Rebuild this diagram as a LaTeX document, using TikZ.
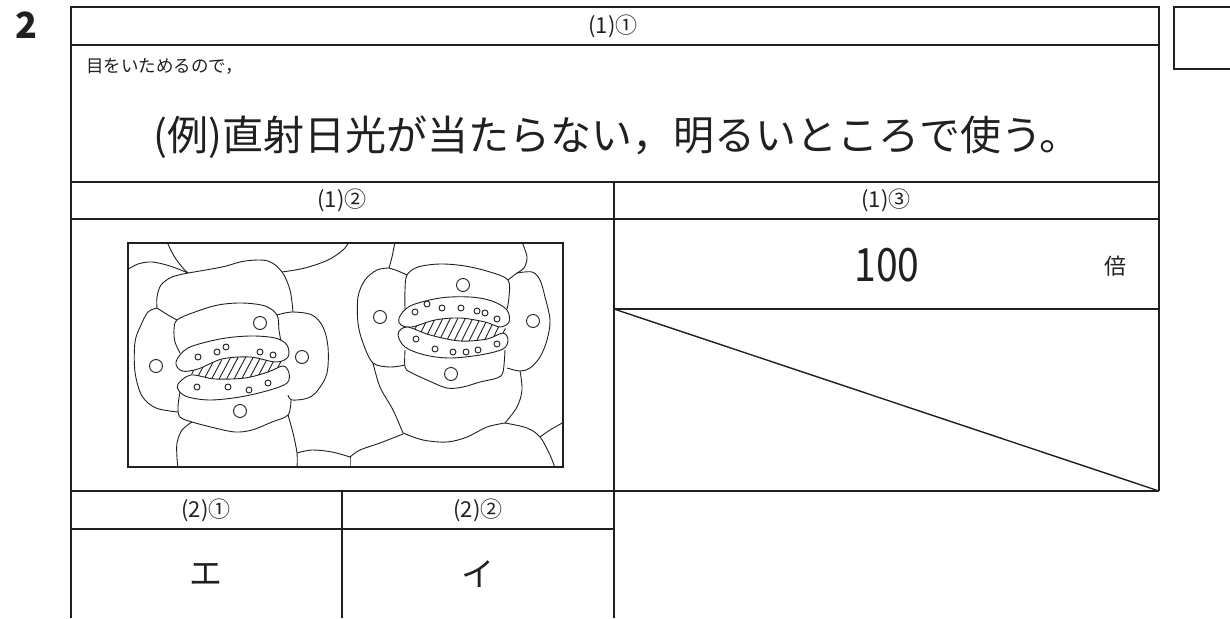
\documentclass[tikz,border=0pt]{standalone}
\usepackage{fontspec}
\usepackage{graphicx}
\setmainfont{Noto Sans CJK JP}
\definecolor{ink}{HTML}{231F20}
\tikzset{
  outer/.style={line width=2pt, draw=ink},
  inner/.style={line width=1.1pt, draw=ink},
  cellline/.style={line width=0.9pt, draw=ink},
  hatch/.style={line width=0.9pt, draw=ink},
  hdr/.style={font=\fontsize{22}{22}\selectfont, text=ink, inner sep=0pt},
  ans/.style={font=\fontsize{33}{33}\selectfont, text=ink, inner sep=0pt},
}
\newcommand{\cellpath}[1]{\draw[cellline] plot[smooth, tension=0.55] coordinates {#1};}
\newcommand{\blob}[1]{\draw[cellline, fill=white] plot[smooth cycle, tension=0.55] coordinates {#1};}
\begin{document}
\begin{tikzpicture}[x=1pt, y=-1pt]
\useasboundingbox (0,0) rectangle (1230,618);
% ---- table rules ----
\draw[inner] (71,45) -- (1159,45);
\draw[inner] (71,182) -- (1159,182);
\draw[inner] (71,219) -- (1159,219);
\draw[inner] (614,309) -- (1159,309);
\draw[inner] (71,491) -- (614,491);
\draw[inner] (71,529) -- (614,529);
\draw[inner] (614,182) -- (614,491);
\draw[inner] (342,491) -- (342,618);
\draw[inner, line width=1.4pt] (614,309) -- (1159,491);
\draw[outer] (614,491) -- (1159,491);
\draw[outer] (614,491) -- (614,618);
\draw[outer] (71,618) -- (71,7) -- (1159,7) -- (1159,491);
\draw[outer] (1235,7) -- (1174,7) -- (1174,69) -- (1235,69);
% ---- texts ----
\node[font=\fontsize{36}{36}\selectfont\bfseries, text=ink, inner sep=0pt] (num) at (26,25) {2};
\node[hdr] (h11) at (613,26) {(1)①};
\node[font=\fontsize{17.5}{17.5}\selectfont, text=ink, inner sep=0pt, anchor=west] (pre) at (86,66) {目をいためるので，};
\node[font=\fontsize{41}{41}\selectfont, text=ink, inner sep=0pt] (main) at (617,137) {(例)直射日光が当たらない，明るいところで使う。};
\node[hdr] (h12) at (342,200) {(1)②};
\node[hdr] (h13) at (886,200) {(1)③};
\node[font=\fontsize{46}{46}\selectfont, text=ink, inner sep=0pt] (val) at (887,265) {\scalebox{0.85}[1]{100}};
\node[font=\fontsize{22}{22}\selectfont, text=ink, inner sep=0pt] (unit) at (1115,266) {倍};
\node[hdr] (h21) at (206,510) {(2)①};
\node[hdr] (h22) at (478,510) {(2)②};
\node[ans] (a21) at (206,574) {エ};
\node[ans] (a22) at (478,574) {イ};
% ---- microscope drawing ----
\begin{scope}
\clip (128,243) rectangle (563,467);
% left complex
\cellpath{(127,270) (138,264) (152,262) (170,266) (188,273)}
\cellpath{(167,242) (174,256) (182,267) (188,273)}
\cellpath{(188,273) (222,267) (245,261) (268,261) (282,272) (290,290) (293,312)}
\cellpath{(282,272) (305,268) (328,260) (343,250) (349,242)}
\cellpath{(188,273) (172,277) (161,285) (157,297) (157,308)}
\cellpath{(157,308) (148,312) (141,325) (135,342) (135,372) (142,396) (156,408) (178,412)}
\cellpath{(157,308) (168,315) (177,320)}
\cellpath{(180,353) (175,342) (174,330) (177,320) (195,312) (218,305) (242,303) (265,306) (277,315) (279,330) (281,342)}
\cellpath{(277,315) (292,312) (312,315) (323,327) (328,347) (327,373) (318,390) (308,398) (292,400) (288,395)}
\cellpath{(180,392) (178,407) (180,417) (192,422) (215,428) (235,432) (252,430) (272,422) (288,415) (291,400)}
\cellpath{(192,422) (182,430) (177,443) (177,458) (178,468)}
\cellpath{(288,415) (293,433) (297,453) (297,468)}
\cellpath{(297,453) (312,450) (332,452) (350,457)}
\cellpath{(350,457) (350,468)}
\cellpath{(350,457) (360,450) (380,443) (403,434)}
% right complex
\cellpath{(395,242) (392,257) (389,268)}
\cellpath{(389,268) (398,271) (407,275)}
\cellpath{(389,268) (377,270) (365,280) (358,297) (358,323) (363,343) (373,363) (390,367) (405,365)}
\cellpath{(405,309) (405,290) (407,275) (418,267) (440,264) (465,266) (490,272) (508,280) (509,297) (507,309)}
\cellpath{(522,242) (527,257) (524,268) (517,273) (508,280)}
\cellpath{(517,273) (532,272) (540,280) (545,297) (550,320) (547,340) (540,357) (530,368) (520,371) (507,368)}
\cellpath{(405,350) (405,367) (410,372) (427,380) (447,388) (463,387) (480,382) (497,378) (503,372) (505,350)}
\cellpath{(373,363) (380,387) (393,410) (403,433)}
\cellpath{(520,371) (522,390) (517,407) (505,423)}
\cellpath{(403,433) (423,440) (447,442) (467,437) (487,427) (505,423)}
\cellpath{(505,423) (527,428) (540,437) (550,455) (555,468)}
\cellpath{(540,437) (550,430) (564,422)}
\end{scope}
% pores with hatching
\begin{scope}
\clip plot[smooth cycle, tension=0.6] coordinates {(190,373) (215,362) (245,356) (270,357) (286,364) (270,373) (243,378) (213,379)};
\foreach \i in {0,...,16} {\draw[hatch] ({180+7.5*\i},382) -- ({196+7.5*\i},352);}
\end{scope}
\begin{scope}
\clip plot[smooth cycle, tension=0.6] coordinates {(403,327) (425,320) (455,316) (485,319) (507,331) (485,340) (455,342) (425,337)};
\foreach \i in {0,...,19} {\draw[hatch] ({392+7.5*\i},345) -- ({408+7.5*\i},313);}
\end{scope}
% guard cells
\blob{(176,362) (188,348) (220,339) (250,336) (275,338) (287,345) (288,357) (276,362) (250,357) (222,359) (198,369) (182,371)}
\blob{(178,384) (191,375) (215,379) (245,378) (268,372) (283,366) (289,373) (287,383) (270,390) (240,397) (210,400) (188,397) (179,391)}
\blob{(399,318) (410,306) (440,298) (470,297) (492,301) (507,310) (509,322) (500,327) (485,322) (460,318) (435,320) (412,327) (401,325)}
\blob{(398,334) (407,327) (430,335) (460,341) (487,339) (503,333) (508,340) (503,349) (480,355) (450,358) (425,355) (405,347)}
% circles
\foreach \p in {(260,323),(156,366),(302,357),(240,411),(463,285),(380,317),(533,321),(451,374)}
  {\draw[cellline] \p circle (6.5);}
\foreach \p in {(198,357),(217,352),(226,347),(260,352),(273,355),(197,387),(228,387),(249,390),(268,383),
  (415,312),(427,304),(442,308),(461,308),(477,311),(485,313),(497,319),
  (416,339),(435,349),(453,352),(466,352),(478,350),(497,344)}
  {\draw[cellline] \p circle (3);}
\draw[line width=1.8pt, draw=ink] (128,243) rectangle (563,467);
\end{tikzpicture}
\end{document}
